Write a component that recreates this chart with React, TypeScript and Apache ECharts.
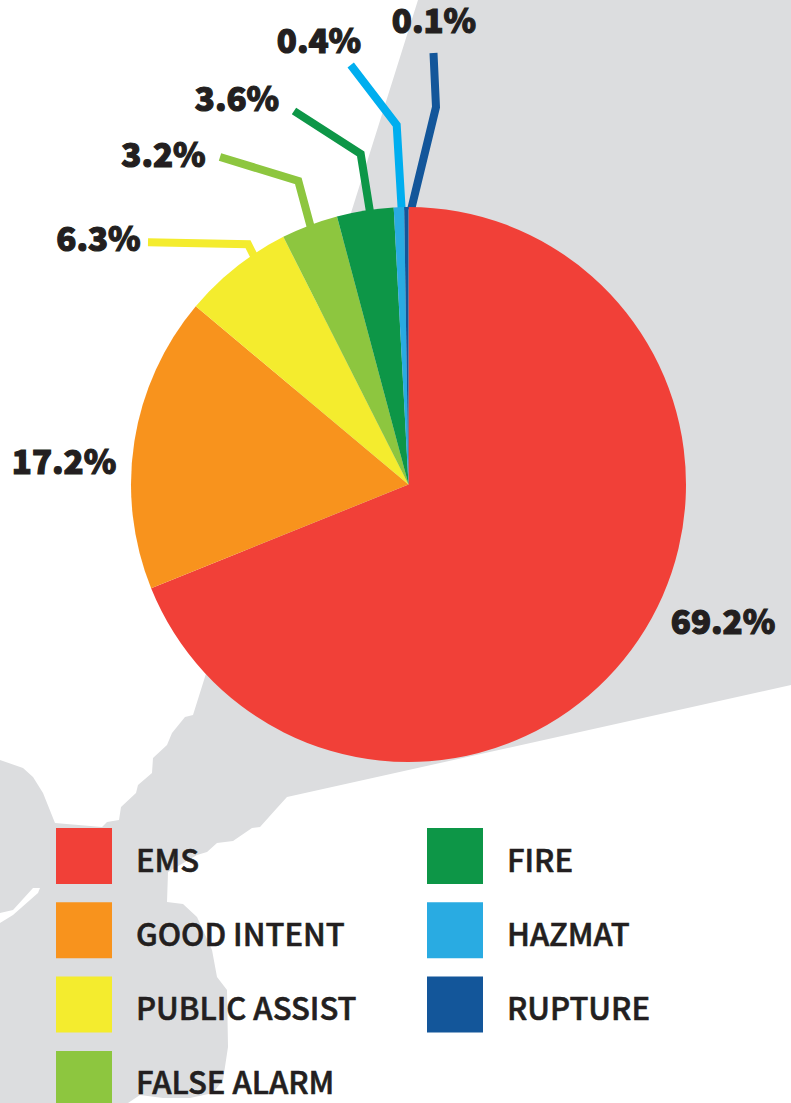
import React, { useEffect, useRef } from "react";
import * as echarts from "echarts";

const categories = ["EMS", "GOOD INTENT", "PUBLIC ASSIST", "FALSE ALARM", "FIRE", "HAZMAT", "RUPTURE"];
// Wedge sizes as measured on the picture; the printed percentages are kept separately.
const wedgeShares = [68.9, 17.2, 6.45, 3.3, 3.3, 0.6, 0.25];
const printedLabels = ["69.2%", "17.2%", "6.3%", "3.2%", "3.6%", "0.4%", "0.1%"];
const sliceColors = ["#F14038", "#F8931D", "#F4EC2E", "#8DC63F", "#0D9647", "#29ABE2", "#13569A"];
const leaderColors = ["", "", "#F4EC2E", "#8DC63F", "#0D9647", "#00AEEF", "#13569A"];

const legendLeft = ["EMS", "GOOD INTENT", "PUBLIC ASSIST", "FALSE ALARM"];
const legendRight = ["FIRE", "HAZMAT", "RUPTURE"];

const labelCentres: number[][] = [
  [723, 620], [64, 460], [98.5, 237], [163.5, 153], [237, 97], [319, 39], [434, 19],
];
const leaderPaths: number[][][] = [
  [], [],
  [[148, 242.3], [248, 244.3], [255, 258]],
  [[220, 157], [298.3, 181], [311, 228]],
  [[294, 111], [360.7, 154], [370, 212]],
  [[350.7, 65], [396.7, 125], [401.7, 210]],
  [[433.5, 53], [436, 107], [411, 210]],
];

const landOutline: number[][] = [
  [418, 0], [791, 0], [791, 685], [287, 797], [277, 808], [260, 827], [252, 828], [233, 841], [217, 843],
  [207, 852], [197, 855], [168, 872], [167, 902], [183, 904], [197, 917], [212, 950], [217, 977], [227, 990],
  [228, 1047], [223, 1080], [213, 1093], [190, 1098], [163, 1098], [140, 1095], [128, 1103], [0, 1103],
  [0, 760], [23, 768], [33, 777], [43, 793], [55, 823], [102, 827], [107, 822], [119, 820], [121, 807],
  [136, 793], [138, 785], [152, 773], [153, 758], [167, 745], [172, 733], [185, 717], [193, 715], [204, 680],
];
const inletOutline: number[][] = [
  [0, 913], [13, 910], [33, 888], [40, 888], [38, 893], [13, 915], [0, 923],
];

const FONT = '"Noto Sans CJK SC", "Noto Sans", sans-serif';

function legendOf(names: string[], left: number) {
  const legendText = {
    color: "#231F20",
    fontFamily: FONT,
    fontSize: 31,
    fontWeight: 500,
    textBorderColor: "#231F20",
    textBorderWidth: 0.6,
  };
  return {
    data: names,
    orient: "vertical" as const,
    left,
    top: 828,
    padding: 0,
    itemWidth: 56,
    itemHeight: 56,
    itemGap: 18.3,
    icon: "rect",
    selectedMode: false,
    formatter: "{t|{name}}",
    textStyle: {
      ...legendText,
      padding: [0, 0, 0, 19],
      rich: { t: { ...legendText, padding: [4, 0, 0, 0] } },
    },
  };
}

export default function App() {
  const ref = useRef<HTMLDivElement>(null);
  useEffect(() => {
    document.body.style.margin = "0";
    const chart = echarts.init(ref.current!, undefined, { renderer: "svg" });
    chart.setOption({
      animation: false,
      backgroundColor: "#FFFFFF",
      graphic: [
        { type: "polygon", z: -2, shape: { points: landOutline }, style: { fill: "#DCDDDF" } },
        { type: "polygon", z: -1, shape: { points: inletOutline }, style: { fill: "#FFFFFF" } },
      ],
      legend: [legendOf(legendLeft, 56), legendOf(legendRight, 427)],
      series: [
        {
          type: "pie",
          center: [408.5, 484.5],
          radius: [0, 277.5],
          startAngle: 90,
          clockwise: true,
          avoidLabelOverlap: false,
          silent: true,
          data: categories.map((name, i) => ({
            name,
            value: wedgeShares[i],
            itemStyle: { color: sliceColors[i] },
            labelLine: {
              show: leaderPaths[i].length > 0,
              lineStyle: { color: leaderColors[i] || sliceColors[i], width: 8, cap: "butt", join: "miter" },
            },
          })),
          label: {
            show: true,
            position: "outside",
            formatter: (p: any) => printedLabels[p.dataIndex],
            color: "#231F20",
            fontFamily: FONT,
            fontSize: 33,
            fontWeight: 900,
            lineHeight: 26,
            textBorderColor: "#231F20",
            textBorderWidth: 1.2,
          },
          labelLayout: (p: any) => ({
            x: labelCentres[p.dataIndex][0],
            y: labelCentres[p.dataIndex][1],
            align: "center",
            verticalAlign: "middle",
            labelLinePoints: leaderPaths[p.dataIndex].length ? leaderPaths[p.dataIndex] : undefined,
          }),
        },
      ],
    });
    return () => chart.dispose();
  }, []);
  return (
    <div style={{ width: 791, height: 1103, overflow: "hidden" }}>
      <div ref={ref} style={{ width: 791, height: 1180 }} />
    </div>
  );
}
